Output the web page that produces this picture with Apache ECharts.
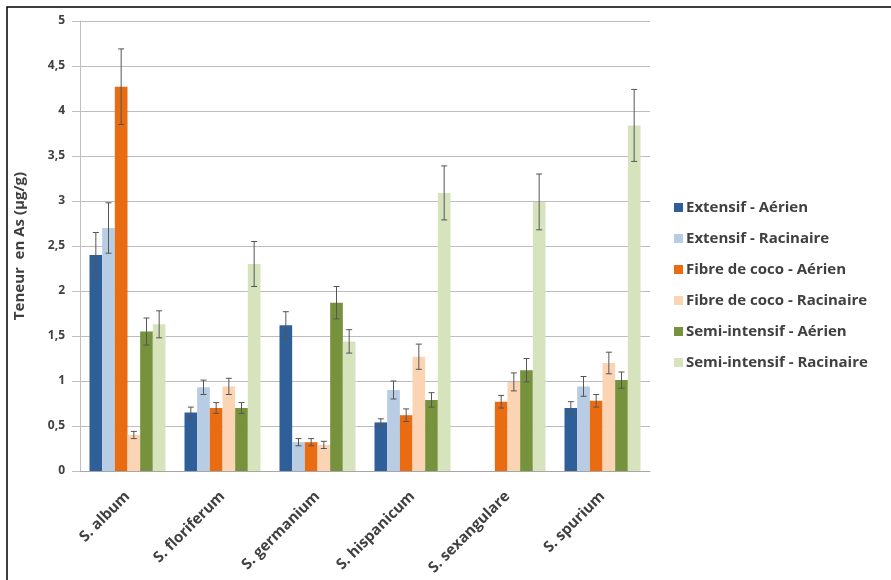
<!DOCTYPE html>
<html><head><meta charset="utf-8">
<script src="https://cdn.jsdelivr.net/npm/echarts@6/dist/echarts.min.js"></script>
<style>html,body{margin:0;padding:0;background:#fff}#c{width:891px;height:580px}</style>
</head><body><div id="c"></div>
<script>
const categories = ['S. album','S. floriferum','S. germanium','S. hispanicum','S. sexangulare','S. spurium'];
const seriesNames = ['Extensif - Aérien','Extensif - Racinaire','Fibre de coco - Aérien','Fibre de coco - Racinaire','Semi-intensif - Aérien','Semi-intensif - Racinaire'];
const extAerien = [2.40, 0.65, 1.62, 0.54, null, 0.70];
const extRacinaire = [2.70, 0.93, 0.32, 0.90, null, 0.94];
const cocoAerien = [4.27, 0.70, 0.32, 0.62, 0.77, 0.78];
const cocoRacinaire = [0.40, 0.94, 0.29, 1.27, 0.99, 1.20];
const semiAerien = [1.55, 0.70, 1.87, 0.79, 1.12, 1.01];
const semiRacinaire = [1.63, 2.30, 1.44, 3.09, 2.99, 3.84];
const errExtAerien = [0.25, 0.06, 0.15, 0.04, null, 0.07];
const errExtRacinaire = [0.28, 0.08, 0.04, 0.10, null, 0.11];
const errCocoAerien = [0.42, 0.06, 0.04, 0.07, 0.07, 0.07];
const errCocoRacinaire = [0.04, 0.09, 0.04, 0.14, 0.10, 0.12];
const errSemiAerien = [0.15, 0.06, 0.18, 0.08, 0.13, 0.09];
const errSemiRacinaire = [0.15, 0.25, 0.13, 0.30, 0.31, 0.40];
const yTicks = [0, 0.5, 1, 1.5, 2, 2.5, 3, 3.5, 4, 4.5, 5];

const values = [extAerien, extRacinaire, cocoAerien, cocoRacinaire, semiAerien, semiRacinaire];
const errors = [errExtAerien, errExtRacinaire, errCocoAerien, errCocoRacinaire, errSemiAerien, errSemiRacinaire];
const colors = ['#2f5f98','#b8cce4','#e96b12','#fbd4b4','#76923c','#d6e3bc'];
const nS = values.length;
const fontFam = '"Open Sans", Lato, sans-serif';

const chart = echarts.init(document.getElementById('c'), null, {renderer:'canvas'});
const series = [];
values.forEach((vals, si) => {
  series.push({
    type:'bar', name: seriesNames[si], data: vals,
    itemStyle:{color: colors[si]},
    barGap:'0%', barCategoryGap:'20%'
  });
});
values.forEach((vals, si) => {
  series.push({
    type:'custom', name:'err'+si, z:10,
    data: categories.map((c,i)=>[i, vals[i], errors[si][i]]),
    encode:{x:0,y:1},
    renderItem: function(params, api){
      const xi = api.value(0), v = api.value(1), e = api.value(2);
      if (isNaN(v) || isNaN(e)) return null;
      const catW = api.size([1,0])[0];
      const bw = catW*0.8/nS;
      const x = api.coord([xi, 0])[0] + (si - (nS-1)/2)*bw;
      const yHi = api.coord([xi, v+e])[1];
      const yLo = api.coord([xi, v-e])[1];
      const st = {stroke:'#555', lineWidth:1};
      return {type:'group', children:[
        {type:'line', shape:{x1:x,y1:yHi,x2:x,y2:yLo}, style:st},
        {type:'line', shape:{x1:x-3,y1:yHi,x2:x+3,y2:yHi}, style:st},
        {type:'line', shape:{x1:x-3,y1:yLo,x2:x+3,y2:yLo}, style:st}
      ]};
    }
  });
});

chart.setOption({
  animation:false,
  textStyle:{fontFamily: fontFam},
  graphic:[{type:'rect', shape:{x:7,y:7,width:1000,height:1000}, style:{fill:'none', stroke:'#000', lineWidth:1.5}, silent:true}],
  grid:{left:80, right:241, top:21, height:450},
  legend:{
    data: seriesNames, orient:'vertical', left:669, top:195,
    itemWidth:9, itemHeight:9, itemGap:16, icon:'rect',
    textStyle:{fontFamily:fontFam, fontWeight:'bold', fontSize:15, color:'#404040', padding:[0,0,0,-2]}
  },
  xAxis:{
    type:'category', data: categories,
    axisLine:{lineStyle:{color:'#a6a6a6'}},
    axisTick:{show:false},
    axisLabel:{rotate:45, interval:0, margin:23, fontWeight:'bold', fontSize:15, color:'#404040', fontFamily:fontFam}
  },
  yAxis:{
    type:'value', min:0, max:5, interval:0.5,
    name:'Teneur  en As (µg/g)', nameLocation:'middle', nameGap:53,
    nameTextStyle:{fontWeight:'bold', fontSize:15, color:'#404040', fontFamily:fontFam},
    axisLine:{show:true, lineStyle:{color:'#c0c0c0'}},
    axisTick:{show:true, inside:false, length:8, lineStyle:{color:'#c0c0c0'}},
    splitLine:{lineStyle:{color:'#bdbdbd'}},
    axisLabel:{margin:15, fontWeight:'bold', fontSize:12, color:'#404040', fontFamily:fontFam,
      formatter: v => String(v).replace('.', ',')}
  },
  series: series
});
</script></body></html>
